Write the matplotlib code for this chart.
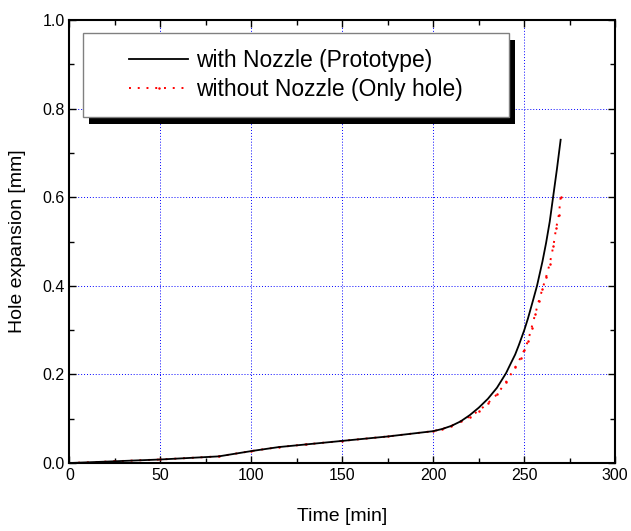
import matplotlib
matplotlib.use("Agg")
import matplotlib.pyplot as plt
from matplotlib.patches import Rectangle
from matplotlib.transforms import ScaledTranslation
from matplotlib.ticker import MultipleLocator, FormatStrFormatter

plt.rcParams["font.family"] = ["Liberation Sans", "DejaVu Sans"]

# with Nozzle (Prototype)
time_nozzle = [0, 25, 50, 82, 100, 115, 130, 150, 175, 200, 205, 210, 215, 220,
               225, 230, 235, 240, 242, 245, 247, 250, 252, 255, 257, 260, 262,
               264, 266, 268, 270]
exp_nozzle = [0.0, 0.004, 0.008, 0.015, 0.027, 0.036, 0.042, 0.05, 0.06, 0.072,
              0.077, 0.084, 0.094, 0.108, 0.125, 0.145, 0.17, 0.203, 0.22,
              0.245, 0.266, 0.30, 0.326, 0.37, 0.40, 0.455, 0.497, 0.545,
              0.605, 0.665, 0.73]

# without Nozzle (Only hole)
time_hole = [0, 25, 50, 82, 100, 115, 130, 150, 175, 200, 205, 210, 215, 220,
             225, 230, 235, 240, 245, 248, 250, 252, 254, 256, 258, 260, 262,
             264, 266, 267.5, 269, 270]
exp_hole = [0.0, 0.004, 0.008, 0.015, 0.027, 0.036, 0.042, 0.05, 0.06, 0.072,
            0.077, 0.084, 0.094, 0.105, 0.118, 0.135, 0.155, 0.183, 0.216,
            0.238, 0.255, 0.275, 0.305, 0.336, 0.366, 0.393, 0.42, 0.45, 0.49,
            0.53, 0.56, 0.60]

x_ticks = [0, 50, 100, 150, 200, 250, 300]
y_ticks = [0.0, 0.2, 0.4, 0.6, 0.8, 1.0]

fig = plt.figure(figsize=(6.31, 5.31), dpi=100)
ax = fig.add_axes([0.110, 0.128, 0.865, 0.834])

ax.plot(time_nozzle, exp_nozzle, color="black", lw=1.3,
        label="with Nozzle (Prototype)", zorder=3)
ax.plot(time_hole, exp_hole, color="red", lw=1.4, linestyle=(0, (1, 3.5)),
        marker="o", markersize=1.8, markeredgewidth=0,
        label="without Nozzle (Only hole)", zorder=2)

ax.set_xlim(0, 300)
ax.set_ylim(0, 1.0)
ax.set_xticks(x_ticks)
ax.set_yticks(y_ticks)
ax.yaxis.set_major_formatter(FormatStrFormatter("%.1f"))
ax.xaxis.set_minor_locator(MultipleLocator(25))
ax.yaxis.set_minor_locator(MultipleLocator(0.1))
ax.tick_params(which="both", direction="in", top=True, right=True,
               width=1.0, labelsize=11.5)
ax.tick_params(which="major", length=5)
ax.tick_params(which="minor", length=3.5)
for s in ax.spines.values():
    s.set_linewidth(1.5)

ax.grid(True, which="major", color="blue", linestyle=(0, (1, 2)), lw=0.7)
ax.set_axisbelow(True)

ax.set_xlabel("Time [min]", fontsize=14, labelpad=18)
ax.set_ylabel("Hole expansion [mm]", fontsize=14, labelpad=12)

# legend box with hard black shadow
box = (0.0247, 0.781, 0.781, 0.19)
shadow = Rectangle(box[:2], box[2], box[3], facecolor="black", edgecolor="none",
                   transform=ax.transAxes + ScaledTranslation(0.06, -0.07, fig.dpi_scale_trans),
                   zorder=4.8)
frame = Rectangle(box[:2], box[2], box[3], facecolor="white", edgecolor="#808080",
                  lw=1.0, transform=ax.transAxes, zorder=4.9)
ax.add_patch(shadow)
ax.add_patch(frame)
leg = ax.legend(loc="center", bbox_to_anchor=(box[0] + box[2] / 2, box[1] + box[3] / 2),
                frameon=False, fontsize=16.5, handlelength=2.6, handletextpad=0.35,
                labelspacing=0.25, numpoints=1, borderaxespad=0)
leg.set_zorder(6)

fig.savefig("out.png", dpi=100)
